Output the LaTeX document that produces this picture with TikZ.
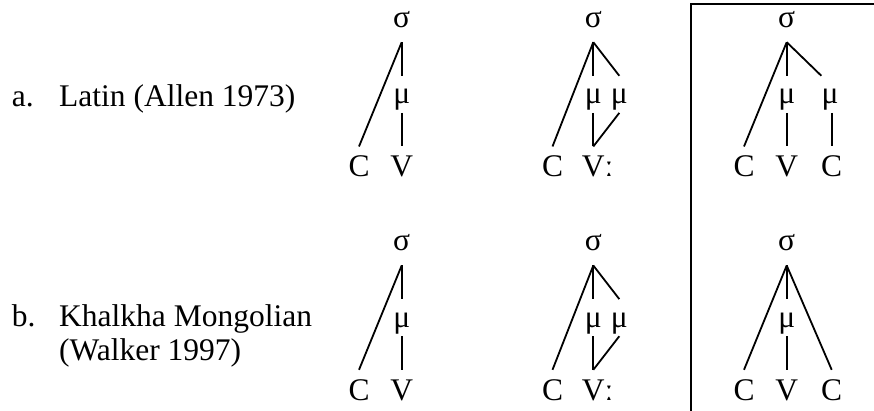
\documentclass[tikz,border=0pt]{standalone}
\usepackage{fontspec}
\setmainfont{Liberation Serif}
\begin{document}
\begin{tikzpicture}[x=1pt,y=-1pt,
  every node/.style={font=\fontsize{31.5}{36}\selectfont, inner sep=0pt},
  lab/.style={anchor=base west},
  sig/.style={anchor=base, text height=14pt, text depth=14.7pt},
  mu/.style={anchor=base, text height=28pt, text depth=8.7pt},
  seg/.style={anchor=base, text height=30.3pt, text depth=0pt},
  ln/.style={line width=1.8pt},
  boxln/.style={line width=2pt}]
\useasboundingbox (0,0) rectangle (874,411);
\clip (0,0) rectangle (874,411);

% labels
\node[lab] (la) at (11.7,106.7) {a.};
\node[lab] (lat) at (59,106.7) {Latin (Allen 1973)};
\node[lab] (lb) at (11.7,326.7) {b.};
\node[lab] (kha) at (59,326.7) {Khalkha Mongolian};
\node[lab] (wal) at (59,360.5) {(Walker 1997)};

% box
\draw[boxln] (691,4.3) rectangle (900,411.6);

% ---------- row a ----------
% col 1
\node[sig] (as1) at (401.7,27.3) {σ};
\node[mu]  (am1) at (401.7,104) {μ};
\node[seg] (ac1) at (359,177) {C};
\node[seg] (av1) at (401.7,177) {V};
\draw[ln] (as1.south) -- (am1.north);
\draw[ln] (am1.south) -- (av1.north);
\draw[ln] (as1.south) -- (ac1.north);
% col 2
\node[sig] (as2) at (593.3,27.3) {σ};
\node[mu]  (am2a) at (593.3,104) {μ};
\node[mu]  (am2b) at (619.3,104) {μ};
\node[seg] (ac2) at (552.5,177) {C};
\node[seg] (av2) at (593.3,177) {V\rlap{ː}};
\draw[ln] (as2.south) -- (am2a.north);
\draw[ln] (as2.south) -- (am2b.north);
\draw[ln] (as2.south) -- (ac2.north);
\draw[ln] (am2a.south) -- (av2.north);
\draw[ln] (am2b.south) -- (av2.north);
% col 3
\node[sig] (as3) at (786.7,27.3) {σ};
\node[mu]  (am3a) at (786.7,104) {μ};
\node[mu]  (am3b) at (830,104) {μ};
\node[seg] (ac3a) at (744,177) {C};
\node[seg] (av3) at (786.7,177) {V};
\node[seg] (ac3b) at (831.7,177) {C};
\draw[ln] (as3.south) -- (am3a.north);
\draw[ln] (as3.south) -- (am3b.north west);
\draw[ln] (as3.south) -- (ac3a.north);
\draw[ln] (am3a.south) -- (av3.north);
\draw[ln] (am3b.south -| ac3b.north) -- (ac3b.north);

% ---------- row b ----------
% col 1
\node[sig] (bs1) at (401.7,250.6) {σ};
\node[mu]  (bm1) at (401.7,327.3) {μ};
\node[seg] (bc1) at (359,400.3) {C};
\node[seg] (bv1) at (401.7,400.3) {V};
\draw[ln] (bs1.south) -- (bm1.north);
\draw[ln] (bm1.south) -- (bv1.north);
\draw[ln] (bs1.south) -- (bc1.north);
% col 2
\node[sig] (bs2) at (593.3,250.6) {σ};
\node[mu]  (bm2a) at (593.3,327.3) {μ};
\node[mu]  (bm2b) at (619.3,327.3) {μ};
\node[seg] (bc2) at (552.5,400.3) {C};
\node[seg] (bv2) at (593.3,400.3) {V\rlap{ː}};
\draw[ln] (bs2.south) -- (bm2a.north);
\draw[ln] (bs2.south) -- (bm2b.north);
\draw[ln] (bs2.south) -- (bc2.north);
\draw[ln] (bm2a.south) -- (bv2.north);
\draw[ln] (bm2b.south) -- (bv2.north);
% col 3
\node[sig] (bs3) at (786.7,250.6) {σ};
\node[mu]  (bm3) at (786.7,327.3) {μ};
\node[seg] (bc3a) at (744,400.3) {C};
\node[seg] (bv3) at (786.7,400.3) {V};
\node[seg] (bc3b) at (831.7,400.3) {C};
\draw[ln] (bs3.south) -- (bm3.north);
\draw[ln] (bm3.south) -- (bv3.north);
\draw[ln] (bs3.south) -- (bc3a.north);
\draw[ln] (bs3.south) -- (bc3b.north);
\end{tikzpicture}
\end{document}
